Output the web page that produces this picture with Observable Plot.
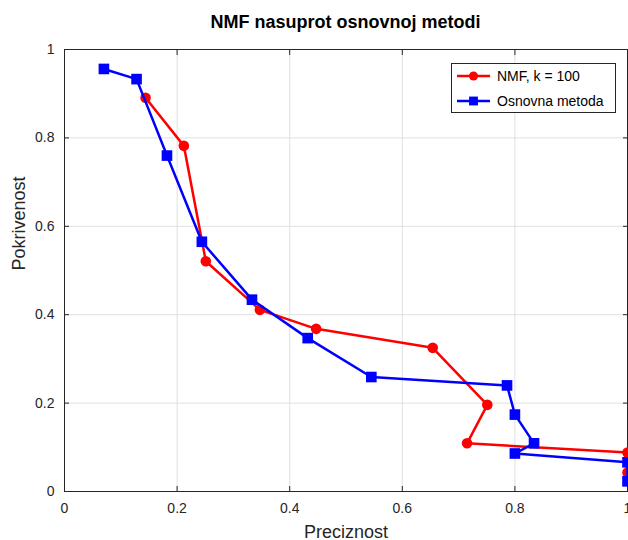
<!DOCTYPE html>
<html>
<head>
<meta charset="utf-8">
<script src="https://cdn.jsdelivr.net/npm/d3@7"></script>
<script src="https://cdn.jsdelivr.net/npm/@observablehq/plot@0.6"></script>
<style>
  html, body { margin: 0; padding: 0; background: white; overflow: hidden; }
  #wrap { position: relative; width: 628px; height: 540px; font-family: "Liberation Sans", Arial, sans-serif; }
  #title { position: absolute; left: 64px; width: 563px; top: 12px; text-align: center; font-weight: bold; font-size: 18px; color: #000; }
  #chart { position: absolute; left: 0; top: 40px; }
  #legend { position: absolute; left: 451px; top: 63px; width: 165px; height: 50px; border: 1px solid #262626; background: white; box-sizing: border-box; }
  .row { position: absolute; left: 0; height: 20px; display: flex; align-items: center; font-size: 14px; color: #000; }
  .row svg { margin-left: 5px; margin-right: 7px; }
</style>
</head>
<body>
<div id="wrap">
  <div id="title"></div>
  <div id="chart"></div>
  <div id="legend"></div>
</div>
<script>
const titleText = "NMF nasuprot osnovnoj metodi";
const xLabel = "Preciznost";
const yLabel = "Pokrivenost";
const seriesNames = ["NMF, k = 100", "Osnovna metoda"];
const seriesColors = ["#ff0000", "#0000ff"];
const ticks = [0, 0.2, 0.4, 0.6, 0.8, 1];

const nmfPrecision = [0.144, 0.212, 0.251, 0.347, 0.447, 0.654, 0.751, 0.715, 1.0, 1.0];
const nmfRecall    = [0.891, 0.782, 0.521, 0.411, 0.368, 0.325, 0.196, 0.109, 0.088, 0.043];
const basePrecision = [0.070, 0.128, 0.182, 0.244, 0.333, 0.432, 0.545, 0.786, 0.800, 0.834, 0.800, 1.0, 1.0];
const baseRecall    = [0.956, 0.933, 0.760, 0.565, 0.434, 0.347, 0.259, 0.240, 0.174, 0.109, 0.086, 0.066, 0.023];

const nmf = nmfPrecision.map((x, i) => ({x, y: nmfRecall[i]}));
const base = basePrecision.map((x, i) => ({x, y: baseRecall[i]}));

document.getElementById("title").textContent = titleText;

const axisColor = "#262626";
const chart = Plot.plot({
  width: 628,
  height: 500,
  marginTop: 9,
  marginBottom: 49,
  marginLeft: 64,
  marginRight: 1,
  style: {fontFamily: "Liberation Sans, Arial, sans-serif", fontSize: "14px", overflow: "hidden", background: "white"},
  x: {domain: [0, 1]},
  y: {domain: [0, 1]},
  marks: [
    Plot.gridX(ticks, {stroke: "#e0e0e0", strokeOpacity: 1}),
    Plot.gridY(ticks, {stroke: "#e0e0e0", strokeOpacity: 1}),
    Plot.axisX({ticks, anchor: "bottom", tickSize: 0, tickPadding: 12, label: null, tickFormat: d3.format("~g"), color: "#262626"}),
    Plot.axisY({ticks, anchor: "left", tickSize: 0, tickPadding: 10, label: null, tickFormat: d3.format("~g"), color: "#262626"}),
    Plot.axisX({ticks, anchor: "bottom", tickSize: -5, label: null, tickFormat: () => "", stroke: axisColor}),
    Plot.axisX({ticks, anchor: "top", tickSize: -5, label: null, tickFormat: () => "", stroke: axisColor}),
    Plot.axisY({ticks, anchor: "left", tickSize: -5, label: null, tickFormat: () => "", stroke: axisColor}),
    Plot.axisY({ticks, anchor: "right", tickSize: -5, label: null, tickFormat: () => "", stroke: axisColor}),
    Plot.frame({stroke: axisColor, strokeWidth: 1}),
    Plot.text([xLabel], {frameAnchor: "bottom", dy: 41, fontSize: 18, fill: "#262626", lineAnchor: "middle"}),
    Plot.text([yLabel], {frameAnchor: "left", dx: -45, rotate: -90, fontSize: 18, fill: "#262626"}),
    Plot.line(nmf, {x: "x", y: "y", stroke: seriesColors[0], strokeWidth: 2.5}),
    Plot.dot(nmf, {x: "x", y: "y", fill: seriesColors[0], r: 5.3, stroke: "none"}),
    Plot.line(base, {x: "x", y: "y", stroke: seriesColors[1], strokeWidth: 2.5}),
    Plot.dot(base, {x: "x", y: "y", fill: seriesColors[1], symbol: "square", r: 6, stroke: "none"})
  ]
});
document.getElementById("chart").appendChild(chart);

const legend = document.getElementById("legend");
const symbols = ["circle", "square"];
seriesNames.forEach((name, i) => {
  const row = document.createElement("div");
  row.className = "row";
  row.style.top = (2 + i * 25) + "px";
  const ns = "http://www.w3.org/2000/svg";
  const svg = document.createElementNS(ns, "svg");
  svg.setAttribute("width", 33); svg.setAttribute("height", 14);
  const ln = document.createElementNS(ns, "line");
  ln.setAttribute("x1", 0); ln.setAttribute("x2", 33); ln.setAttribute("y1", 7); ln.setAttribute("y2", 7);
  ln.setAttribute("stroke", seriesColors[i]); ln.setAttribute("stroke-width", 2.5);
  svg.appendChild(ln);
  const p = document.createElementNS(ns, "path");
  const sym = symbols[i] === "circle" ? d3.symbolCircle : d3.symbolSquare;
  const rr = symbols[i] === "circle" ? 4.5 : 5;
  p.setAttribute("d", d3.symbol(sym, Math.PI * rr * rr)());
  p.setAttribute("transform", "translate(16.5,7)");
  p.setAttribute("fill", seriesColors[i]);
  svg.appendChild(p);
  row.appendChild(svg);
  const t = document.createElement("span");
  t.textContent = name;
  row.appendChild(t);
  legend.appendChild(row);
});
</script>
</body>
</html>
